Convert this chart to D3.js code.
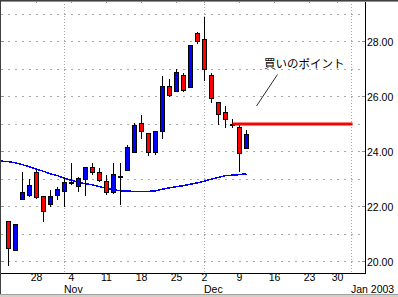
<!DOCTYPE html>
<html>
<head>
<meta charset="utf-8">
<script src="https://cdn.jsdelivr.net/npm/d3@7"></script>
<style>
  html, body { margin: 0; padding: 0; background: #fff; }
  svg { display: block; }
  text { font-family: "Liberation Sans", Arial, sans-serif; }
</style>
</head>
<body>
<div id="chart"></div>
<script>
// daily candles, Oct 22 - Dec 10 2002
const dates = [
  "2002-10-22", "2002-10-23", "2002-10-24", "2002-10-25", "2002-10-28", "2002-10-29", "2002-10-30",
  "2002-10-31", "2002-11-01", "2002-11-04", "2002-11-05", "2002-11-06", "2002-11-07", "2002-11-08",
  "2002-11-11", "2002-11-12", "2002-11-13", "2002-11-14", "2002-11-15", "2002-11-18", "2002-11-19",
  "2002-11-20", "2002-11-21", "2002-11-22", "2002-11-25", "2002-11-26", "2002-11-27", "2002-11-29",
  "2002-12-02", "2002-12-03", "2002-12-04", "2002-12-05", "2002-12-06", "2002-12-09", "2002-12-10"
];
const opens  = [21.45, 20.41, 22.25, 22.40, 23.25, 22.38, 22.09, 22.40, 22.56, 22.87, 22.74, 23.00, 23.43, 23.25,
                22.92, 22.52, 23.09, 23.32, 23.98, 25.01, 24.64, 23.98, 24.71, 26.35, 26.18, 26.76, 26.31, 28.28,
                28.06, 26.75, 25.77, 25.41, 25.00, 24.89, 24.12];
const highs  = [21.45, 21.38, 23.26, 23.01, 23.37, 22.38, 22.61, 22.71, 23.04, 23.58, 23.07, 23.41, 23.58, 23.40,
                23.16, 23.58, 23.58, 24.23, 25.05, 25.33, 24.69, 24.72, 26.73, 26.64, 26.99, 26.85, 27.84, 28.35,
                28.89, 26.85, 25.81, 25.65, 25.20, 25.00, 24.78];
const lows   = [19.84, 20.41, 22.25, 22.35, 22.27, 21.45, 22.00, 22.22, 21.98, 22.79, 22.52, 22.40, 23.16, 22.89,
                22.42, 22.45, 22.07, 23.32, 23.98, 24.47, 23.82, 23.89, 24.47, 25.98, 26.18, 26.18, 26.31, 27.91,
                26.58, 25.75, 24.97, 24.85, 24.85, 23.27, 24.12];
const closes = [20.47, 21.33, 22.50, 22.75, 22.34, 21.83, 22.35, 22.60, 22.89, 22.87, 23.03, 23.41, 23.25, 22.96,
                22.52, 23.16, 23.09, 24.13, 24.93, 24.74, 23.98, 24.72, 26.35, 26.05, 26.87, 26.22, 27.84, 28.01,
                27.00, 25.91, 25.36, 25.18, 25.00, 23.91, 24.60];

// moving average (starts two sessions before the first candle)
const maDates = ["2002-10-18", "2002-10-21"].concat(dates);
const maValues = [23.68, 23.65, 23.63, 23.59, 23.52, 23.44, 23.36, 23.28, 23.19, 23.12, 23.03, 22.95, 22.88,
                  22.83, 22.79, 22.72, 22.66, 22.61, 22.57, 22.56, 22.55, 22.55, 22.55, 22.57, 22.63, 22.68,
                  22.72, 22.76, 22.81, 22.86, 22.92, 23.00, 23.06, 23.12, 23.14, 23.16, 23.19];

// buy point line
const buyLevel = 25.00;
const buyFrom = "2002-12-06";
const buyTo = "2003-01-02";
const buyLabel = "買いのポイント";

const weekTicks = ["2002-10-28", "2002-11-04", "2002-11-11", "2002-11-18", "2002-11-25",
                   "2002-12-02", "2002-12-09", "2002-12-16", "2002-12-23", "2002-12-30"];
const monthStarts = ["2002-11-01", "2002-12-02", "2003-01-02"];
const monthLabels = ["Nov", "Dec", "Jan 2003"];
const priceTicks = [20, 22, 24, 26, 28];
const gridLevels = [20, 21, 22, 23, 24, 25, 26, 27, 28, 29];
const holidays = ["2002-11-28", "2002-12-25", "2003-01-01"];

const fmt = d3.utcFormat("%Y-%m-%d");
const tradingDays = d3.utcDay.range(new Date(Date.UTC(2002, 9, 18)), new Date(Date.UTC(2003, 0, 4)))
  .filter(d => d.getUTCDay() !== 0 && d.getUTCDay() !== 6)
  .map(fmt)
  .filter(d => !holidays.includes(d));

const W = 398, H = 297;
const plotR = 365, plotB = 273;

const svg = d3.select('#chart').append('svg')
  .attr('width', W)
  .attr('height', H);

const x = d3.scalePoint()
  .domain(tradingDays)
  .range([-5.5, -5.5 + 7 * (tradingDays.length - 1)]);

const y = d3.scaleLinear()
  .domain([20, 28])
  .range([261.5, 41.5]);

const snap = v => Math.round(v - 0.5) + 0.5;

svg.append('defs').append('clipPath').attr('id', 'plot')
  .append('rect').attr('x', 1).attr('y', 1).attr('width', plotR - 1).attr('height', plotB - 1);

// grid
svg.selectAll('line.hgrid')
  .data(gridLevels)
  .join('line')
  .attr('x1', 1).attr('x2', plotR)
  .attr('y1', d => snap(y(d))).attr('y2', d => snap(y(d)))
  .style('stroke', '#a8a8a8')
  .style('stroke-dasharray', '2,5');

svg.selectAll('line.vgrid')
  .data(monthStarts)
  .join('line')
  .attr('x1', d => x(d)).attr('x2', d => x(d))
  .attr('y1', 1).attr('y2', plotB)
  .style('stroke', '#a8a8a8')
  .style('stroke-dasharray', '1,2');

// small ticks
svg.selectAll('line.ltick')
  .data(priceTicks)
  .join('line')
  .attr('x1', 0).attr('x2', 4)
  .attr('y1', d => snap(y(d))).attr('y2', d => snap(y(d)))
  .style('stroke', '#909090');

svg.selectAll('line.rtick')
  .data(priceTicks)
  .join('line')
  .attr('x1', plotR - 3).attr('x2', plotR)
  .attr('y1', d => snap(y(d))).attr('y2', d => snap(y(d)))
  .style('stroke', '#909090');

svg.selectAll('line.ttick')
  .data(weekTicks)
  .join('line')
  .attr('x1', d => x(d)).attr('x2', d => x(d))
  .attr('y1', 0).attr('y2', 3)
  .style('stroke', '#909090');

const plot = svg.append('g').attr('clip-path', 'url(#plot)');

// moving average
const ma = maDates.map((d, i) => ({date: d, value: maValues[i]}));
plot.append('path')
  .datum(ma)
  .attr('d', d3.line().x(d => x(d.date)).y(d => y(d.value)))
  .style('fill', 'none')
  .style('stroke', '#0000ff')
  .style('stroke-width', 1.5)
  .style('shape-rendering', 'crispEdges');

// candles
const candles = dates.map((d, i) => ({date: d, open: opens[i], high: highs[i], low: lows[i], close: closes[i]}));

plot.selectAll('line.wick')
  .data(candles)
  .join('line')
  .attr('x1', d => x(d.date)).attr('x2', d => x(d.date))
  .attr('y1', d => Math.round(y(d.high))).attr('y2', d => Math.round(y(d.low)))
  .style('stroke', '#000')
  .style('stroke-width', 1);

plot.selectAll('rect.body')
  .data(candles)
  .join('rect')
  .attr('x', d => x(d.date) - 2)
  .attr('width', 4)
  .attr('y', d => snap(y(Math.max(d.open, d.close))))
  .attr('height', d => Math.max(1, snap(y(Math.min(d.open, d.close))) - snap(y(Math.max(d.open, d.close)))))
  .style('fill', d => d.close > d.open ? '#0000ff' : d.close < d.open ? '#ff0000' : '#000')
  .style('stroke', '#000')
  .style('stroke-width', 1);

// buy point
plot.append('line')
  .attr('x1', x(buyFrom)).attr('x2', x(buyTo) + 1)
  .attr('y1', y(buyLevel)).attr('y2', y(buyLevel))
  .style('stroke', '#ff0000')
  .style('stroke-width', 3);

svg.append('line')
  .attr('x1', 277.5).attr('y1', 74.5)
  .attr('x2', 256.5).attr('y2', 106)
  .style('stroke', '#303030')
  .style('stroke-width', 1);

svg.append('text')
  .attr('x', 264)
  .attr('y', 67.5)
  .style('font-family', '"Noto Sans CJK JP", sans-serif')
  .style('font-size', '11.5px')
  .style('fill', '#000')
  .text(buyLabel);

// axes frame
svg.append('line')
  .attr('x1', plotR + 0.5).attr('x2', plotR + 0.5)
  .attr('y1', 0).attr('y2', plotB)
  .style('stroke', '#000');

svg.append('line')
  .attr('x1', 0).attr('x2', plotR + 1)
  .attr('y1', plotB + 0.5).attr('y2', plotB + 0.5)
  .style('stroke', '#000');

svg.selectAll('text.price')
  .data(priceTicks)
  .join('text')
  .attr('x', plotR + 2)
  .attr('y', d => y(d) + 4)
  .style('font-size', '10.5px')
  .text(d => d.toFixed(2));

svg.selectAll('text.day')
  .data(weekTicks)
  .join('text')
  .attr('x', d => x(d))
  .attr('y', 281)
  .attr('text-anchor', 'middle')
  .style('font-size', '10.5px')
  .text(d => +d.slice(8));

svg.selectAll('text.month')
  .data(monthStarts)
  .join('text')
  .attr('x', d => x(d) - 0.5)
  .attr('y', 292.5)
  .style('font-size', '10.5px')
  .text((d, i) => monthLabels[i]);

// window border
svg.append('rect')
  .attr('x', 0).attr('y', 294).attr('width', W).attr('height', 3)
  .style('fill', '#d4d0c8');
svg.append('line')
  .attr('x1', 0).attr('x2', W).attr('y1', 294.5).attr('y2', 294.5)
  .style('stroke', '#a0a0a0');
svg.append('line')
  .attr('x1', 0).attr('x2', W).attr('y1', 0.5).attr('y2', 0.5)
  .style('stroke', '#404040');
svg.append('line')
  .attr('x1', 0).attr('x2', W).attr('y1', 1.5).attr('y2', 1.5)
  .style('stroke', '#909090');
svg.append('line')
  .attr('x1', 0.5).attr('x2', 0.5).attr('y1', 0).attr('y2', 294)
  .style('stroke', '#404040');
</script>
</body>
</html>
